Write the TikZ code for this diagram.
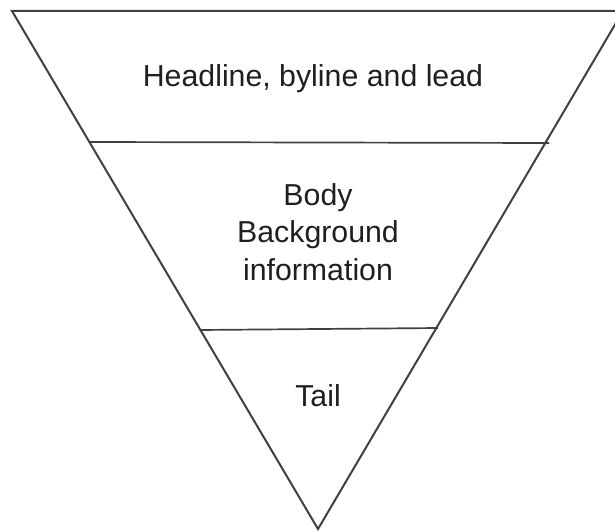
\documentclass[tikz,border=0pt]{standalone}
\usepackage{fontspec}
\setmainfont{Liberation Sans}
\begin{document}
\begin{tikzpicture}[x=1pt,y=-1pt,
  edge/.style={draw=black!75,line width=2pt,line join=miter},
  lbl/.style={text=black!88,font=\fontsize{30.3}{37.5}\selectfont,inner sep=0pt,align=center}]
\useasboundingbox (0,0) rectangle (615,532);
\clip (0,0) rectangle (615,532);
\coordinate (tl) at (12,11);
\coordinate (tr) at (623,11);
\coordinate (ap) at (318,529);
\coordinate (a1) at (90,142);
\coordinate (b1) at (549,143);
\coordinate (a2) at (200,330);
\coordinate (b2) at (438,328);
\draw[edge] (tl) -- (tr) -- (ap) -- cycle;
\draw[edge,line width=1.7pt] (a1) -- (b1);
\draw[edge,line width=1.7pt] (a2) -- (b2);
\node[lbl,anchor=base] (head) at (313,86.7) {Headline, byline and lead};
\node[lbl,anchor=base] (body) at (318,280) {Body\\Background\\information};
\node[lbl,anchor=base] (tail) at (318,406.7) {Tail};
\end{tikzpicture}
\end{document}
